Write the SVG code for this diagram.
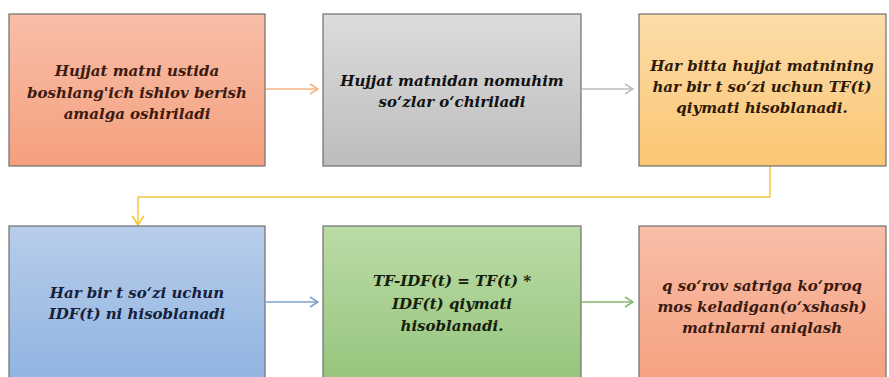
<svg xmlns="http://www.w3.org/2000/svg" width="889" height="377" viewBox="0 0 889 377">
<defs>
<linearGradient id="gSalmon" x1="0" y1="0" x2="0" y2="1"><stop offset="0" stop-color="#f8bea7"/><stop offset="1" stop-color="#f5a07f"/></linearGradient>
<linearGradient id="gGray" x1="0" y1="0" x2="0" y2="1"><stop offset="0" stop-color="#dcdcdc"/><stop offset="1" stop-color="#bdbdbd"/></linearGradient>
<linearGradient id="gGold" x1="0" y1="0" x2="0" y2="1"><stop offset="0" stop-color="#fddcaa"/><stop offset="1" stop-color="#fbc673"/></linearGradient>
<linearGradient id="gBlue" x1="0" y1="0" x2="0" y2="1"><stop offset="0" stop-color="#b8cdea"/><stop offset="1" stop-color="#8fb3e1"/></linearGradient>
<linearGradient id="gGreen" x1="0" y1="0" x2="0" y2="1"><stop offset="0" stop-color="#bcdba6"/><stop offset="1" stop-color="#95c47c"/></linearGradient>
<linearGradient id="gSalmon2" x1="0" y1="0" x2="0" y2="1"><stop offset="0" stop-color="#f8bea7"/><stop offset="1" stop-color="#f5a07f"/></linearGradient>
<marker id="aOrange" viewBox="0 0 10 12" refX="9" refY="6" markerWidth="10" markerHeight="12" markerUnits="userSpaceOnUse" orient="auto"><path d="M1,1 L9,6 L1,11" fill="none" stroke="#f4b183" stroke-width="1.5"/></marker>
<marker id="aGray" viewBox="0 0 10 12" refX="9" refY="6" markerWidth="10" markerHeight="12" markerUnits="userSpaceOnUse" orient="auto"><path d="M1,1 L9,6 L1,11" fill="none" stroke="#bdbdbd" stroke-width="1.5"/></marker>
<marker id="aGold" viewBox="0 0 10 12" refX="9" refY="6" markerWidth="12" markerHeight="14" markerUnits="userSpaceOnUse" orient="auto"><path d="M1,1 L9,6 L1,11" fill="none" stroke="#f5c842" stroke-width="1.6"/></marker>
<marker id="aBlue" viewBox="0 0 10 12" refX="9" refY="6" markerWidth="10" markerHeight="12" markerUnits="userSpaceOnUse" orient="auto"><path d="M1,1 L9,6 L1,11" fill="none" stroke="#7f9fcf" stroke-width="1.5"/></marker>
<marker id="aGreen" viewBox="0 0 10 12" refX="9" refY="6" markerWidth="10" markerHeight="12" markerUnits="userSpaceOnUse" orient="auto"><path d="M1,1 L9,6 L1,11" fill="none" stroke="#86b56b" stroke-width="1.5"/></marker>
</defs>
<style>
.box{stroke:#6e6e6e;stroke-width:1.2}
.t{font-family:'DejaVu Serif','Liberation Serif',serif;font-weight:bold;font-style:italic;font-size:15px;text-anchor:middle}
.conn{fill:none;stroke-width:1.5}
</style>
<rect width="889" height="377" fill="#ffffff"/>
<g id="connectors">
<line class="conn" x1="266" y1="89" x2="318" y2="89" stroke="#f4b183" marker-end="url(#aOrange)"/>
<line class="conn" x1="582" y1="89" x2="633" y2="89" stroke="#bdbdbd" marker-end="url(#aGray)"/>
<polyline class="conn" points="770,166 770,197 138,197 138,225" stroke="#f5c842" stroke-width="2" marker-end="url(#aGold)"/>
<line class="conn" x1="266" y1="302" x2="318" y2="302" stroke="#7f9fcf" marker-end="url(#aBlue)"/>
<line class="conn" x1="582" y1="302" x2="633" y2="302" stroke="#86b56b" marker-end="url(#aGreen)"/>
</g>
<g id="node1">
<rect class="box" x="9" y="14" width="256" height="152" fill="url(#gSalmon)"/>
<text class="t" fill="#3b1a10"><tspan x="137" y="76">Hujjat matni ustida</tspan><tspan x="137" y="97.5">boshlang'ich ishlov berish</tspan><tspan x="137" y="119">amalga oshiriladi</tspan></text>
</g>
<g id="node2">
<rect class="box" x="323" y="14" width="258" height="152" fill="url(#gGray)"/>
<text class="t" fill="#111111"><tspan x="452" y="86">Hujjat matnidan nomuhim</tspan><tspan x="452" y="107">so‘zlar o‘chiriladi</tspan></text>
</g>
<g id="node3">
<rect class="box" x="639" y="14" width="247" height="152" fill="url(#gGold)"/>
<text class="t" fill="#2e1a08"><tspan x="762" y="71">Har bitta hujjat matnining</tspan><tspan x="762" y="92">har bir t so‘zi uchun TF(t)</tspan><tspan x="762" y="113">qiymati hisoblanadi.</tspan></text>
</g>
<g id="node4">
<rect class="box" x="9" y="226" width="256" height="160" fill="url(#gBlue)"/>
<text class="t" fill="#16203a"><tspan x="137" y="298">Har bir t so‘zi uchun</tspan><tspan x="137" y="319">IDF(t) ni hisoblanadi</tspan></text>
</g>
<g id="node5">
<rect class="box" x="323" y="226" width="258" height="160" fill="url(#gGreen)"/>
<text class="t" fill="#14200c"><tspan x="452" y="286">TF-IDF(t) = TF(t) *</tspan><tspan x="452" y="309">IDF(t) qiymati</tspan><tspan x="452" y="331">hisoblanadi.</tspan></text>
</g>
<g id="node6">
<rect class="box" x="639" y="226" width="247" height="160" fill="url(#gSalmon2)"/>
<text class="t" fill="#3b1a10"><tspan x="762" y="291">q so‘rov satriga ko‘proq</tspan><tspan x="762" y="312">mos keladigan(o‘xshash)</tspan><tspan x="762" y="333">matnlarni aniqlash</tspan></text>
</g>
</svg>
